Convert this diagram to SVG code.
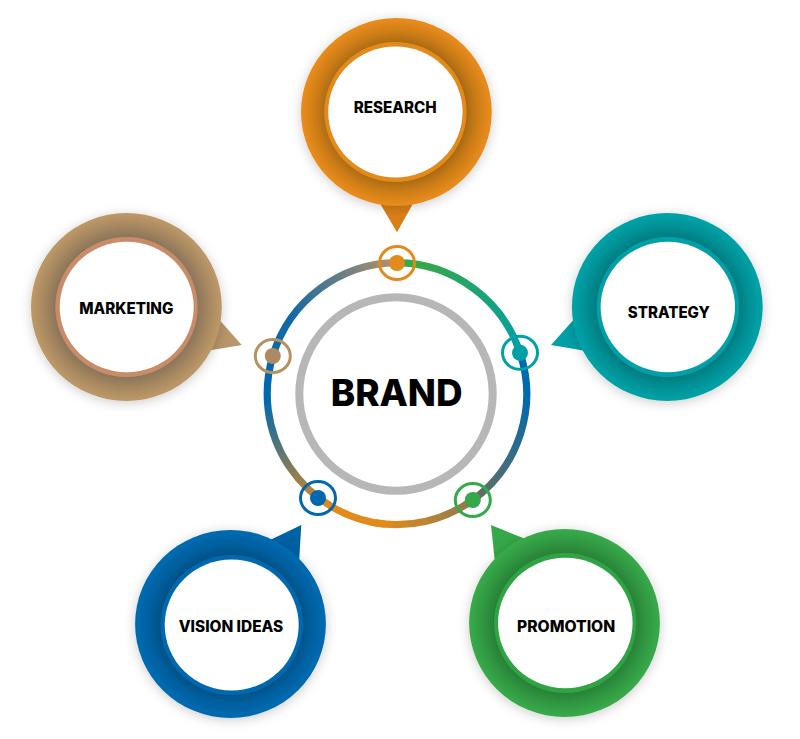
<svg xmlns="http://www.w3.org/2000/svg" width="800" height="739" viewBox="0 0 800 739">
<style>
text{font-family:"Inter","Liberation Sans",sans-serif;font-weight:800;fill:#000;text-anchor:middle}
.lbl{font-size:15.5px}
.arc{fill:none;stroke-width:7.2}
.hole{fill:#fff}
.ringdot{fill:none;stroke-width:3}
</style>
<defs>
<filter id="soft" x="-20%" y="-20%" width="140%" height="140%"><feDropShadow dx="0" dy="2" stdDeviation="6" flood-color="#000" flood-opacity=".2"/></filter>
<radialGradient id="gO"><stop offset=".72" stop-color="#A5670F"/><stop offset=".85" stop-color="#CC7C17"/><stop offset=".98" stop-color="#E78B1C"/></radialGradient>
<radialGradient id="gT"><stop offset=".72" stop-color="#85715A"/><stop offset=".85" stop-color="#A3855F"/><stop offset=".98" stop-color="#BB9767"/></radialGradient>
<radialGradient id="gS"><stop offset=".72" stop-color="#00787C"/><stop offset=".85" stop-color="#008F94"/><stop offset=".98" stop-color="#00A1A6"/></radialGradient>
<radialGradient id="gB"><stop offset=".72" stop-color="#004F82"/><stop offset=".85" stop-color="#005F9E"/><stop offset=".98" stop-color="#006AB0"/></radialGradient>
<radialGradient id="gG"><stop offset=".72" stop-color="#267D35"/><stop offset=".85" stop-color="#2F9540"/><stop offset=".98" stop-color="#37A849"/></radialGradient>
<linearGradient id="a1" gradientUnits="userSpaceOnUse" x1="420" y1="265" x2="520" y2="352"><stop offset="0" stop-color="#35A84A"/><stop offset="1" stop-color="#009FA5"/></linearGradient>
<linearGradient id="a2" gradientUnits="userSpaceOnUse" x1="525" y1="395" x2="473" y2="500"><stop offset="0" stop-color="#0069AE"/><stop offset="1" stop-color="#666F60"/></linearGradient>
<linearGradient id="a3" gradientUnits="userSpaceOnUse" x1="473" y1="500" x2="385" y2="522"><stop offset="0" stop-color="#8A7A52"/><stop offset="1" stop-color="#E28A1C"/></linearGradient>
<linearGradient id="a4" gradientUnits="userSpaceOnUse" x1="330" y1="508" x2="267" y2="400"><stop offset="0" stop-color="#E28A1C"/><stop offset="1" stop-color="#0069AE"/></linearGradient>
<linearGradient id="a5" gradientUnits="userSpaceOnUse" x1="290" y1="320" x2="397" y2="263"><stop offset="0" stop-color="#0F69A6"/><stop offset="1" stop-color="#B5906A"/></linearGradient>
</defs>

<g id="connectors">
<path class="arc" stroke="url(#a1)" d="M397 262.700A131 131 0 0 1 520 352.800"/>
<path class="arc" stroke="url(#a2)" d="M520 352.800A131 131 0 0 1 472.800 500"/>
<path class="arc" stroke="url(#a4)" d="M385 524.200A131 131 0 0 1 272.800 356"/>
<path class="arc" stroke="url(#a3)" d="M472.800 500A131 131 0 0 1 375 522.900"/>
<path class="arc" stroke="url(#a5)" d="M272.800 356A131 131 0 0 1 397 262.700"/>
</g>

<g id="brand">
<circle cx="396" cy="394" r="96.700" fill="#fff" stroke="#B7B7B7" stroke-width="8"/>
<text x="396.700" y="406" font-size="37" textLength="132" lengthAdjust="spacingAndGlyphs">BRAND</text>
</g>

<g id="dot-research"><ellipse class="ringdot" cx="397" cy="263" rx="17.500" ry="16.500" stroke="#E28A1C"/><circle cx="397" cy="263" r="8" fill="#E28A1C"/></g>
<g id="dot-strategy"><ellipse class="ringdot" cx="520" cy="352.800" rx="17.500" ry="16.500" stroke="#00A0A6"/><circle cx="520" cy="352.800" r="8" fill="#00A0A6"/></g>
<g id="dot-marketing"><ellipse class="ringdot" cx="272.800" cy="356" rx="17.500" ry="16.500" stroke="#B59266"/><circle cx="272.800" cy="356" r="8" fill="#AD8A62"/></g>
<g id="dot-vision"><ellipse class="ringdot" cx="318" cy="498" rx="17.500" ry="16.500" stroke="#0068AF"/><circle cx="318" cy="498" r="8" fill="#0068AF"/></g>
<g id="dot-promotion"><ellipse class="ringdot" cx="472.800" cy="500" rx="17.500" ry="16.500" stroke="#35A849"/><circle cx="472.800" cy="500" r="8" fill="#35A849"/></g>

<g id="research">
<polygon points="378,200 397,232.300 415,200" fill="#D97F17"/>
<ellipse cx="396.400" cy="112" rx="95.400" ry="94" fill="url(#gO)" filter="url(#soft)"/>
<ellipse cx="395.400" cy="112" rx="71.200" ry="70" fill="#E28A1C"/>
<ellipse class="hole" cx="395.400" cy="112" rx="67.200" ry="65.500"/>
<text class="lbl" x="395.200" y="113.300" textLength="83" lengthAdjust="spacingAndGlyphs">RESEARCH</text>
</g>

<g id="marketing">
<polygon points="216,316 241.700,345 206,351" fill="#B8956A"/>
<ellipse cx="126.400" cy="307" rx="95.400" ry="94" fill="url(#gT)" filter="url(#soft)"/>
<ellipse cx="126.500" cy="307" rx="71.200" ry="70" fill="#C88C68"/>
<ellipse class="hole" cx="126.700" cy="307" rx="67" ry="65.300"/>
<text class="lbl" x="126.300" y="314" textLength="94" lengthAdjust="spacingAndGlyphs">MARKETING</text>
</g>

<g id="strategy">
<polygon points="577,316 551,345 589,351.500" fill="#00A0A6"/>
<ellipse cx="667.300" cy="307" rx="95.400" ry="94" fill="url(#gS)" filter="url(#soft)"/>
<ellipse cx="667.800" cy="307" rx="71.200" ry="70" fill="#00A0A6"/>
<ellipse class="hole" cx="667.800" cy="307" rx="67.200" ry="65.300"/>
<text class="lbl" x="668.800" y="318.300" textLength="82" lengthAdjust="spacingAndGlyphs">STRATEGY</text>
</g>

<g id="vision-ideas">
<polygon points="268,541 301.300,525 299,563" fill="#0061A3"/>
<ellipse cx="230.500" cy="624" rx="95.400" ry="94" fill="url(#gB)" filter="url(#soft)"/>
<ellipse cx="231.700" cy="625" rx="71.200" ry="70" fill="#0068AF"/>
<ellipse class="hole" cx="231.700" cy="625" rx="67" ry="65.500"/>
<text class="lbl" x="231" y="631.700" textLength="104.600" lengthAdjust="spacingAndGlyphs">VISION IDEAS</text>
</g>

<g id="promotion">
<polygon points="491,525 528,540 495,563" fill="#35A849"/>
<ellipse cx="564.500" cy="623" rx="95.400" ry="94" fill="url(#gG)" filter="url(#soft)"/>
<ellipse cx="565.200" cy="623" rx="71.200" ry="70" fill="#30A344"/>
<ellipse class="hole" cx="565.300" cy="623" rx="67.300" ry="65.300"/>
<text class="lbl" x="566.100" y="632" textLength="98.300" lengthAdjust="spacingAndGlyphs">PROMOTION</text>
</g>
</svg>
